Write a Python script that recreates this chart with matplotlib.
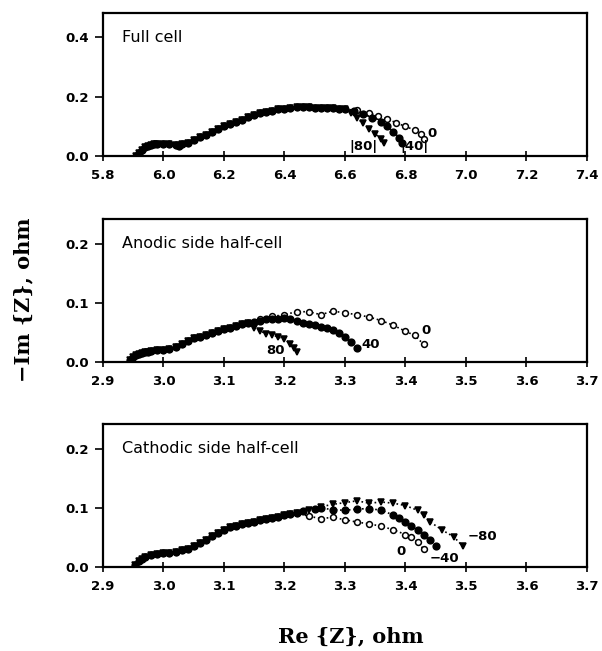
import numpy as np
import matplotlib
matplotlib.use("Agg")
import matplotlib.pyplot as plt

# ---- data ----
# full cell: common arc, then branches for 0, 40, 80
full_re_common = [5.91, 5.92, 5.93, 5.94, 5.95, 5.96, 5.97, 5.98, 6.00, 6.02, 6.04, 6.05, 6.06, 6.08,
                  6.10, 6.12, 6.14, 6.16, 6.18, 6.20, 6.22, 6.24, 6.26, 6.28, 6.30, 6.32, 6.34, 6.36,
                  6.38, 6.40, 6.42, 6.44, 6.46, 6.48, 6.50, 6.52, 6.54, 6.56, 6.58, 6.60]
full_im_common = [0.000, 0.012, 0.022, 0.030, 0.035, 0.038, 0.040, 0.041, 0.040, 0.040, 0.038, 0.036, 0.040, 0.046,
                  0.054, 0.063, 0.072, 0.082, 0.091, 0.100, 0.108, 0.116, 0.123, 0.131, 0.138, 0.144, 0.149, 0.153,
                  0.157, 0.160, 0.162, 0.165, 0.165, 0.164, 0.162, 0.161, 0.161, 0.162, 0.160, 0.157]
full_re_0 = [6.64, 6.68, 6.71, 6.74, 6.77, 6.80, 6.83, 6.85, 6.86]
full_im_0 = [0.155, 0.145, 0.135, 0.125, 0.112, 0.100, 0.088, 0.075, 0.058]
full_re_40 = [6.63, 6.66, 6.69, 6.72, 6.74, 6.76, 6.78, 6.79]
full_im_40 = [0.152, 0.143, 0.130, 0.115, 0.100, 0.082, 0.062, 0.045]
full_re_80 = [6.62, 6.64, 6.66, 6.68, 6.70, 6.72, 6.73]
full_im_80 = [0.145, 0.128, 0.110, 0.092, 0.075, 0.058, 0.045]

# anodic side half-cell
an_re_common = [2.945, 2.95, 2.955, 2.96, 2.965, 2.97, 2.975, 2.98, 2.99, 3.00, 3.01, 3.02,
                3.03, 3.04, 3.05, 3.06, 3.07, 3.08, 3.09, 3.10, 3.11, 3.12, 3.13, 3.14]
an_im_common = [0.004, 0.008, 0.011, 0.013, 0.015, 0.016, 0.017, 0.018, 0.020, 0.020, 0.022, 0.025,
                0.030, 0.035, 0.040, 0.043, 0.046, 0.049, 0.052, 0.055, 0.058, 0.061, 0.064, 0.066]
an_re_0 = [3.16, 3.18, 3.20, 3.22, 3.24, 3.26, 3.28, 3.30, 3.32, 3.34, 3.36, 3.38, 3.40, 3.415, 3.43]
an_im_0 = [0.073, 0.077, 0.080, 0.085, 0.085, 0.080, 0.086, 0.083, 0.080, 0.076, 0.070, 0.062, 0.052, 0.045, 0.030]
an_re_40 = [3.15, 3.16, 3.17, 3.18, 3.19, 3.20, 3.21, 3.22, 3.23, 3.24, 3.25, 3.26, 3.27, 3.28, 3.29, 3.30, 3.31, 3.32]
an_im_40 = [0.068, 0.070, 0.072, 0.073, 0.073, 0.074, 0.072, 0.069, 0.066, 0.064, 0.062, 0.059, 0.057, 0.054,
            0.049, 0.042, 0.034, 0.023]
an_re_80 = [3.15, 3.16, 3.17, 3.18, 3.19, 3.20, 3.21, 3.215, 3.22]
an_im_80 = [0.058, 0.052, 0.048, 0.046, 0.042, 0.038, 0.031, 0.024, 0.017]

# cathodic side half-cell
ca_re_common = [2.953, 2.96, 2.965, 2.97, 2.98, 2.99, 3.00, 3.01, 3.02, 3.03, 3.04, 3.05, 3.06, 3.07, 3.08,
                3.09, 3.10, 3.11, 3.12, 3.13, 3.14, 3.15, 3.16, 3.17, 3.18, 3.19, 3.20, 3.21, 3.22]
ca_im_common = [0.003, 0.010, 0.014, 0.017, 0.020, 0.022, 0.023, 0.024, 0.025, 0.028, 0.031, 0.035, 0.040,
                0.046, 0.052, 0.058, 0.063, 0.067, 0.070, 0.073, 0.075, 0.077, 0.079, 0.081, 0.083, 0.085,
                0.088, 0.090, 0.092]
ca_re_0 = [3.24, 3.26, 3.28, 3.30, 3.32, 3.34, 3.36, 3.38, 3.40, 3.41, 3.42, 3.43]
ca_im_0 = [0.086, 0.082, 0.084, 0.080, 0.076, 0.073, 0.069, 0.063, 0.055, 0.050, 0.043, 0.030]
ca_re_40 = [3.23, 3.25, 3.26, 3.28, 3.30, 3.32, 3.34, 3.36, 3.38, 3.39, 3.40, 3.41, 3.42, 3.43, 3.44, 3.45]
ca_im_40 = [0.095, 0.099, 0.100, 0.097, 0.096, 0.098, 0.099, 0.096, 0.088, 0.083, 0.077, 0.070, 0.062,
            0.055, 0.046, 0.035]
ca_re_80 = [3.24, 3.26, 3.28, 3.30, 3.32, 3.34, 3.36, 3.38, 3.40, 3.42, 3.43, 3.44, 3.46, 3.48, 3.495]
ca_im_80 = [0.097, 0.102, 0.106, 0.109, 0.112, 0.108, 0.110, 0.108, 0.104, 0.096, 0.088, 0.077, 0.063,
            0.051, 0.035]

titles = ["Full cell", "Anodic side half-cell", "Cathodic side half-cell"]
full_labels = [("0", 6.872, 0.076), ("|80|", 6.615, 0.034), ("|40|", 6.782, 0.034)]
an_labels = [("0", 3.427, 0.054), ("40", 3.327, 0.030), ("80", 3.170, 0.020)]
ca_labels = [("0", 3.385, 0.026), ("\u221240", 3.440, 0.015), ("\u221280", 3.503, 0.052)]

panels = [
    dict(common=(full_re_common, full_im_common),
         tails=[(full_re_0, full_im_0), (full_re_40, full_im_40), (full_re_80, full_im_80)],
         xlim=(5.8, 7.4), xticks=np.arange(5.8, 7.41, 0.2),
         ylim=(0, 0.48), yticks=[0.0, 0.2, 0.4], labels=full_labels, bottom=0.760),
    dict(common=(an_re_common, an_im_common),
         tails=[(an_re_0, an_im_0), (an_re_40, an_im_40), (an_re_80, an_im_80)],
         xlim=(2.9, 3.7), xticks=np.arange(2.9, 3.71, 0.1),
         ylim=(0, 0.242), yticks=[0.0, 0.1, 0.2], labels=an_labels, bottom=0.444),
    dict(common=(ca_re_common, ca_im_common),
         tails=[(ca_re_0, ca_im_0), (ca_re_40, ca_im_40), (ca_re_80, ca_im_80)],
         xlim=(2.9, 3.7), xticks=np.arange(2.9, 3.71, 0.1),
         ylim=(0, 0.242), yticks=[0.0, 0.1, 0.2], labels=ca_labels, bottom=0.129),
]

# marker style per series: 0 open circle, 40 filled circle, 80 filled down-triangle
styles = [dict(marker="o", mfc="white", ms=4.2),
          dict(marker="o", mfc="black", ms=4.8),
          dict(marker="v", mfc="black", ms=4.8)]

fig = plt.figure(figsize=(6.02, 6.51), dpi=100)

for i, p in enumerate(panels):
    ax = fig.add_axes([0.171, p["bottom"], 0.804, 0.2197])
    cre, cim = p["common"]
    for (tre, tim), st in zip(p["tails"], styles):
        re = list(cre) + list(tre)
        im = list(cim) + list(tim)
        ax.plot(re, im, linestyle=":", color="black", lw=1.2, marker=st["marker"],
                mfc=st["mfc"], mec="black", mew=1.1, ms=st["ms"])
    ax.set_xlim(*p["xlim"])
    ax.set_ylim(*p["ylim"])
    ax.set_xticks(p["xticks"])
    ax.set_xticklabels(["%.1f" % v for v in p["xticks"]])
    ax.set_yticks(p["yticks"])
    ax.set_yticklabels(["%.1f" % v for v in p["yticks"]])
    for lab in ax.get_xticklabels() + ax.get_yticklabels():
        lab.set_fontweight("bold")
        lab.set_fontsize(9.5)
    ax.tick_params(axis="x", direction="inout", length=7, width=1.2, pad=6)
    ax.tick_params(axis="y", direction="out", length=6, width=1.2, pad=4)
    for s in ax.spines.values():
        s.set_linewidth(1.6)
    ax.text(0.04, 0.83, titles[i], transform=ax.transAxes, fontsize=11.5,
            family="DejaVu Sans", va="center", ha="left")
    for txt, x, y in p["labels"]:
        ax.text(x, y, txt, fontsize=9.5, fontweight="bold", ha="left", va="center")

fig.text(0.038, 0.54, "\u2212Im {Z}, ohm", rotation=90, family="DejaVu Serif",
         fontsize=15, fontweight="bold", ha="center", va="center")
fig.text(0.583, 0.022, "Re {Z}, ohm", family="DejaVu Serif", fontsize=15,
         fontweight="bold", ha="center", va="center")

fig.savefig("out.png", dpi=100)
